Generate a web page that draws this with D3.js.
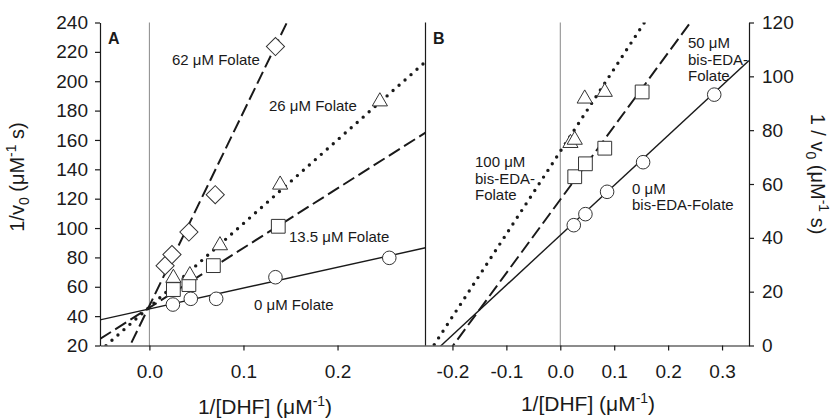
<!DOCTYPE html>
<html>
<head>
<meta charset="utf-8">
<script src="https://cdn.jsdelivr.net/npm/d3@7"></script>
<style>
	body { margin: 0; background: #fff; }
	svg { display: block; font-family: Arial, "Liberation Sans", sans-serif; }
</style>
</head>
<body>
<svg id="chart" width="832" height="420"></svg>
<script>
// Two Lineweaver-Burk panels side by side.
// A: folate as inhibitor, B: bis-EDA-folate.

// Panel A data, 1/[DHF] vs 1/v0
var aCircX = [0.025, 0.044, 0.071, 0.134, 0.255];
var aCircY = [47.9, 51.8, 51.8, 66.5, 79.7];
var aSqX = [0.0255, 0.042, 0.068, 0.137];
var aSqY = [58.1, 61.5, 74.4, 101.2];
var aTriX = [0.0255, 0.043, 0.075, 0.139, 0.245];
var aTriY = [66, 67.8, 88.2, 129.5, 186.2];
var aDiaX = [0.0167, 0.024, 0.042, 0.07, 0.134];
var aDiaY = [74.4, 81.9, 97.3, 122.7, 223.6];
// fitted lines: [intercept, slope]
var aFits = [[44.9, 141.9], [45.8, 406.2], [46.2, 569.2], [47.1, 1319.7]];
var aLabels = ["0 \u03bcM Folate", "13.5 \u03bcM Folate", "26 \u03bcM Folate", "62 \u03bcM Folate"];
var aTicksX = [0, 0.1, 0.2];
var aTicksY = [20, 40, 60, 80, 100, 120, 140, 160, 180, 200, 220, 240];

// Panel B data
var bCircX = [0.025, 0.0466, 0.0868, 0.1536, 0.2855];
var bCircY = [44.7, 48.8, 57.1, 68.1, 93.2];
var bSqX = [0.0268, 0.0466, 0.0825, 0.1518];
var bSqY = [62.7, 67.5, 73.3, 94.2];
var bTriX = [0.0188, 0.0268, 0.0453, 0.0825];
var bTriY = [75.2, 76.4, 91.7, 94.2];
var bFits = [[40.95, 185.4], [54.2, 272.6], [72.1, 307]];
var bLabels = [["0 \u03bcM", "bis-EDA-Folate"], ["50 \u03bcM", "bis-EDA-", "Folate"], ["100 \u03bcM", "bis-EDA-", "Folate"]];
var bTicksX = [-0.2, -0.1, 0, 0.1, 0.2, 0.3];
var bTicksY = [0, 20, 40, 60, 80, 100, 120];

var ink = "#1a1a1a";
var svg = d3.select("#chart");

var xA = d3.scaleLinear().domain([-0.0525, 0.2935]).range([100, 425.5]);
var yA = d3.scaleLinear().domain([20, 240]).range([345.5, 22.5]);
var xB = d3.scaleLinear().domain([-0.25, 0.35]).range([425.5, 749]);
var yB = d3.scaleLinear().domain([0, 120]).range([345.5, 22.5]);

var styles = {
	solid: {dash: null, w: 1.4, cap: "butt"},
	dash: {dash: "13,5", w: 2, cap: "butt"},
	dot: {dash: "0,8", w: 3.4, cap: "round"}
};

var symbols = {
	circle: d3.symbol(d3.symbolCircle, 145)(),
	square: d3.symbol(d3.symbolSquare, 190)(),
	triangle: d3.symbol(d3.symbolTriangle, 100)(),
	diamond: d3.symbol(d3.symbolSquare, 165)()
};

// plain hyphen for negatives, like the original
function fmt(d) { return d.toFixed(1) }

function panel(id, x, y, fits, fitStyles, series)
{
	var g = svg.append("g");

	svg.append("clipPath").attr("id", "clip" + id)
		.append("rect")
		.attr("x", x.range()[0]).attr("y", y.range()[1])
		.attr("width", x.range()[1] - x.range()[0])
		.attr("height", y.range()[0] - y.range()[1]);

	// vertical line at x = 0
	g.append("line")
		.attr("x1", x(0)).attr("x2", x(0))
		.attr("y1", y.range()[0]).attr("y2", y.range()[1])
		.attr("stroke", "#888").attr("stroke-width", 1);

	var lines = g.append("g").attr("clip-path", "url(#clip" + id + ")");
	fits.forEach(function (f, i) {
		var st = styles[fitStyles[i]];
		var dom = x.domain();
		var line = d3.line()
			.x(function (d) { return x(d) })
			.y(function (d) { return y(f[0] + f[1] * d) });
		lines.append("path")
			.attr("d", line(dom))
			.attr("fill", "none")
			.attr("stroke", ink)
			.attr("stroke-width", st.w)
			.attr("stroke-linecap", st.cap)
			.attr("stroke-dasharray", st.dash);
	});

	series.forEach(function (s) {
		var pts = s.xs.map(function (v, i) { return [v, s.ys[i]] });
		g.selectAll(null).data(pts)
			.enter().append("path")
			.attr("d", symbols[s.sym])
			.attr("transform", function (d) {
				var t = "translate(" + x(d[0]) + "," + y(d[1]) + ")";
				if (s.sym == "diamond") t += " rotate(45)";
				return t;
			})
			.attr("fill", "#fff")
			.attr("stroke", "#333")
			.attr("stroke-width", 1);
	});
	return g;
}

function styleAxis(a, size)
{
	a.select(".domain").attr("stroke", ink).attr("stroke-width", 1.2);
	a.selectAll(".tick line").attr("stroke", ink).attr("stroke-width", 1.2);
	a.selectAll(".tick text").attr("fill", ink).attr("font-size", size).attr("font-family", null);
}

// Panel A
var gA = panel("A", xA, yA, aFits, ["solid", "dash", "dot", "dash"], [
	{xs: aCircX, ys: aCircY, sym: "circle"},
	{xs: aSqX, ys: aSqY, sym: "square"},
	{xs: aTriX, ys: aTriY, sym: "triangle"},
	{xs: aDiaX, ys: aDiaY, sym: "diamond"}
]);

// Panel B
var gB = panel("B", xB, yB, bFits, ["solid", "dash", "dot"], [
	{xs: bCircX, ys: bCircY, sym: "circle"},
	{xs: bSqX, ys: bSqY, sym: "square"},
	{xs: bTriX, ys: bTriY, sym: "triangle"}
]);

// axes
var axL = svg.append("g").attr("transform", "translate(100,0)")
	.call(d3.axisLeft(yA).tickValues(aTicksY).tickSize(5).tickSizeOuter(0).tickPadding(7));
styleAxis(axL, "19px");
var axAB = svg.append("g").attr("transform", "translate(0,345.5)")
	.call(d3.axisBottom(xA).tickValues(aTicksX).tickFormat(fmt).tickSize(5).tickSizeOuter(0).tickPadding(14));
styleAxis(axAB, "19px");
var axBB = svg.append("g").attr("transform", "translate(0,345.5)")
	.call(d3.axisBottom(xB).tickValues(bTicksX).tickFormat(fmt).tickSize(5).tickSizeOuter(0).tickPadding(14));
styleAxis(axBB, "19px");
var axR = svg.append("g").attr("transform", "translate(749,0)")
	.call(d3.axisRight(yB).tickValues(bTicksY).tickSize(5).tickSizeOuter(0).tickPadding(8));
styleAxis(axR, "19px");

// divider between the panels
svg.append("line")
	.attr("x1", 425.5).attr("x2", 425.5).attr("y1", 22.5).attr("y2", 345.5)
	.attr("stroke", ink).attr("stroke-width", 1.2);

// panel letters
svg.append("text").attr("x", 108).attr("y", 44).text("A")
	.attr("font-weight", "bold").attr("font-size", "16px").attr("fill", ink);
svg.append("text").attr("x", 433).attr("y", 44).text("B")
	.attr("font-weight", "bold").attr("font-size", "16px").attr("fill", ink);

// series labels, panel A
var aLabelPos = [[254, 310], [289, 242], [269, 111], [172, 65]];
aLabels.forEach(function (t, i) {
	svg.append("text").attr("x", aLabelPos[i][0]).attr("y", aLabelPos[i][1])
		.attr("font-size", "15px").attr("fill", ink).text(t);
});

// series labels, panel B (multi line)
var bLabelPos = [[632, 193.5], [688, 48], [475, 167]];
bLabels.forEach(function (lines, i) {
	var t = svg.append("text").attr("font-size", "15px").attr("fill", ink);
	lines.forEach(function (s, j) {
		t.append("tspan").attr("x", bLabelPos[i][0])
			.attr("y", bLabelPos[i][1] + j * 16.7).text(s);
	});
});

// axis titles
function dhfTitle(cx, cy)
{
	var t = svg.append("text").attr("x", cx).attr("y", cy)
		.attr("text-anchor", "middle").attr("font-size", "21px").attr("fill", ink);
	t.append("tspan").text("1/[DHF] (\u03bcM");
	t.append("tspan").attr("font-size", "14px").attr("dy", -8).text("-1");
	t.append("tspan").attr("dy", 8).text(")");
}
dhfTitle(265, 414);
dhfTitle(588, 411);

var tl = svg.append("text")
	.attr("transform", "translate(24,177) rotate(-90)")
	.attr("text-anchor", "middle").attr("font-size", "20px").attr("fill", ink);
tl.append("tspan").text("1/v");
tl.append("tspan").attr("font-size", "14px").attr("dy", 5).text("0");
tl.append("tspan").attr("dy", -5).text(" (\u03bcM");
tl.append("tspan").attr("font-size", "14px").attr("dy", -8).text("-1");
tl.append("tspan").attr("dy", 8).text(" s)");

var tr = svg.append("text")
	.attr("transform", "translate(811,174) rotate(90)")
	.attr("text-anchor", "middle").attr("font-size", "20px").attr("fill", ink);
tr.append("tspan").text("1 / v");
tr.append("tspan").attr("font-size", "14px").attr("dy", 5).text("0");
tr.append("tspan").attr("dy", -5).text(" (\u03bcM");
tr.append("tspan").attr("font-size", "14px").attr("dy", -8).text("-1");
tr.append("tspan").attr("dy", 8).text(" s)");
</script>
</body>
</html>
